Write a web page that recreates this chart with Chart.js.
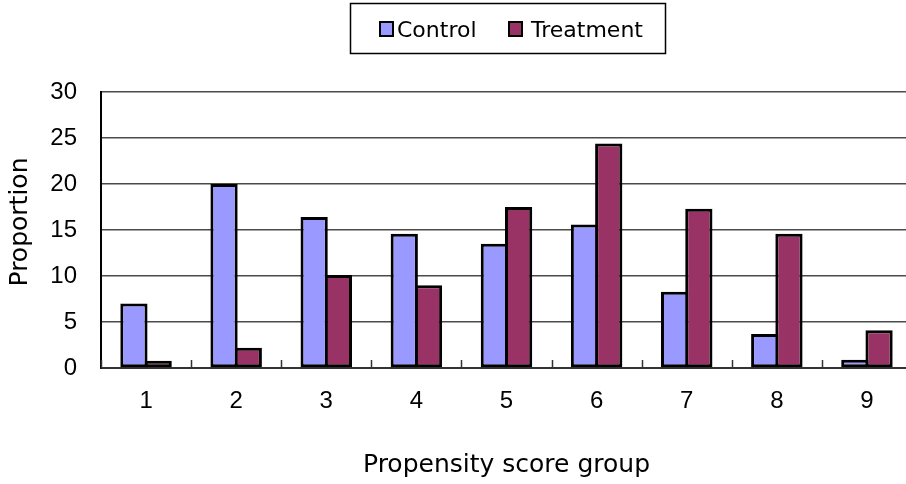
<!DOCTYPE html>
<html>
<head>
<meta charset="utf-8">
<script src="https://cdn.jsdelivr.net/npm/chart.js@4.4.0/dist/chart.umd.min.js"></script>
<style>
  html, body { margin: 0; padding: 0; background: #fff; overflow: hidden; }
  #wrap { width: 906px; height: 484px; overflow: hidden; position: relative; }
  canvas { display: block; }
</style>
</head>
<body>
<div id="wrap"><canvas id="chart" width="920" height="484"></canvas></div>
<script>
// Propensity score groups and the share of each arm falling in them
const groups = ['1', '2', '3', '4', '5', '6', '7', '8', '9'];
const controlValues = [7.0, 20.0, 16.4, 14.6, 13.5, 15.6, 8.3, 3.7, 0.9];
const treatmentValues = [0.8, 2.2, 10.1, 9.0, 17.5, 24.4, 17.3, 14.6, 4.1];
const yTickValues = [0, 5, 10, 15, 20, 25, 30];
const xTitle = 'Propensity score group';
const yTitle = 'Proportion';

const TICK_FONT = { family: "'Liberation Sans', Arial, sans-serif", size: 24 };
const TITLE_FONT = { family: "'DejaVu Sans', sans-serif", size: 25 };
const TITLE_CSS = "25px 'DejaVu Sans', sans-serif";
const LEGEND_CSS = "22px 'DejaVu Sans', sans-serif";

// Framed legend drawn above the plot
const framedLegend = {
  id: 'framedLegend',
  afterDraw(chart) {
    const ctx = chart.ctx;
    const items = chart.data.datasets;
    const slots = [{ box: 380, text: 397 }, { box: 509, text: 531 }];
    ctx.save();
    ctx.lineWidth = 1.5;
    ctx.strokeStyle = '#000';
    ctx.strokeRect(350.5, 3.5, 315, 50);
    ctx.font = LEGEND_CSS;
    ctx.textBaseline = 'alphabetic';
    ctx.textAlign = 'left';
    items.forEach((ds, i) => {
      const s = slots[i];
      ctx.fillStyle = ds.backgroundColor;
      ctx.fillRect(s.box, 22, 13, 14);
      ctx.lineWidth = 2;
      ctx.strokeStyle = '#000';
      ctx.strokeRect(s.box, 22, 13, 14);
      ctx.fillStyle = '#000';
      ctx.fillText(ds.label, s.text, 37);
    });
    ctx.restore();
  }
};

// Rotated y-axis title, centred a little above the plot's midline
const yAxisTitle = {
  id: 'yAxisTitle',
  afterDraw(chart) {
    const ctx = chart.ctx;
    ctx.save();
    ctx.translate(20, 222);
    ctx.rotate(-Math.PI / 2);
    ctx.font = TITLE_CSS;
    ctx.fillStyle = '#000';
    ctx.textAlign = 'center';
    ctx.textBaseline = 'middle';
    ctx.fillText(yTitle, 0, 0);
    ctx.restore();
  }
};

// Short tick marks pointing into the plot between categories
const innerTicks = {
  id: 'innerTicks',
  afterDatasetsDraw(chart) {
    const x = chart.scales.x;
    const bottom = chart.chartArea.bottom;
    const ctx = chart.ctx;
    ctx.save();
    ctx.strokeStyle = '#333';
    ctx.lineWidth = 1.5;
    for (let i = 0; i <= groups.length; i++) {
      const px = Math.round(x.getPixelForValue(i - 0.5)) + 0.5;
      ctx.beginPath();
      ctx.moveTo(px, bottom);
      ctx.lineTo(px, bottom - 8);
      ctx.stroke();
    }
    ctx.restore();
  }
};

new Chart(document.getElementById('chart'), {
  type: 'bar',
  data: {
    labels: groups,
    datasets: [
      {
        label: 'Control',
        data: controlValues,
        backgroundColor: '#9999FF',
        borderColor: '#000',
        borderWidth: 3,
        borderSkipped: false
      },
      {
        label: 'Treatment',
        data: treatmentValues,
        backgroundColor: '#993366',
        borderColor: '#000',
        borderWidth: 3,
        borderSkipped: false
      }
    ]
  },
  options: {
    responsive: false,
    animation: false,
    layout: { padding: { top: 92, left: 0, right: 8, bottom: 0 } },
    // neighbouring bars overlap by one border width so they share an edge
    datasets: { bar: { categoryPercentage: 0.538, barPercentage: 1.124 } },
    plugins: {
      legend: { display: false },
      tooltip: { enabled: false }
    },
    scales: {
      x: {
        grid: { display: true, drawOnChartArea: false, drawTicks: false },
        border: { display: true, color: '#333', width: 2 },
        ticks: { color: '#000', font: TICK_FONT, padding: 19, maxRotation: 0 },
        title: {
          display: true,
          text: xTitle,
          color: '#000',
          font: TITLE_FONT,
          padding: { top: 4, bottom: 4 }
        },
        afterFit(scale) { scale.height = 116; }
      },
      y: {
        min: 0,
        max: 30,
        grid: { color: '#4a4a4a', lineWidth: 1.5, drawTicks: false },
        border: { display: true, color: '#000', width: 2 },
        ticks: { color: '#000', font: TICK_FONT, padding: 24 },
        afterBuildTicks(scale) { scale.ticks = yTickValues.map(v => ({ value: v })); },
        title: { display: false },
        afterFit(scale) { scale.width = 101; }
      }
    }
  },
  plugins: [framedLegend, yAxisTitle, innerTicks]
});
</script>
</body>
</html>
